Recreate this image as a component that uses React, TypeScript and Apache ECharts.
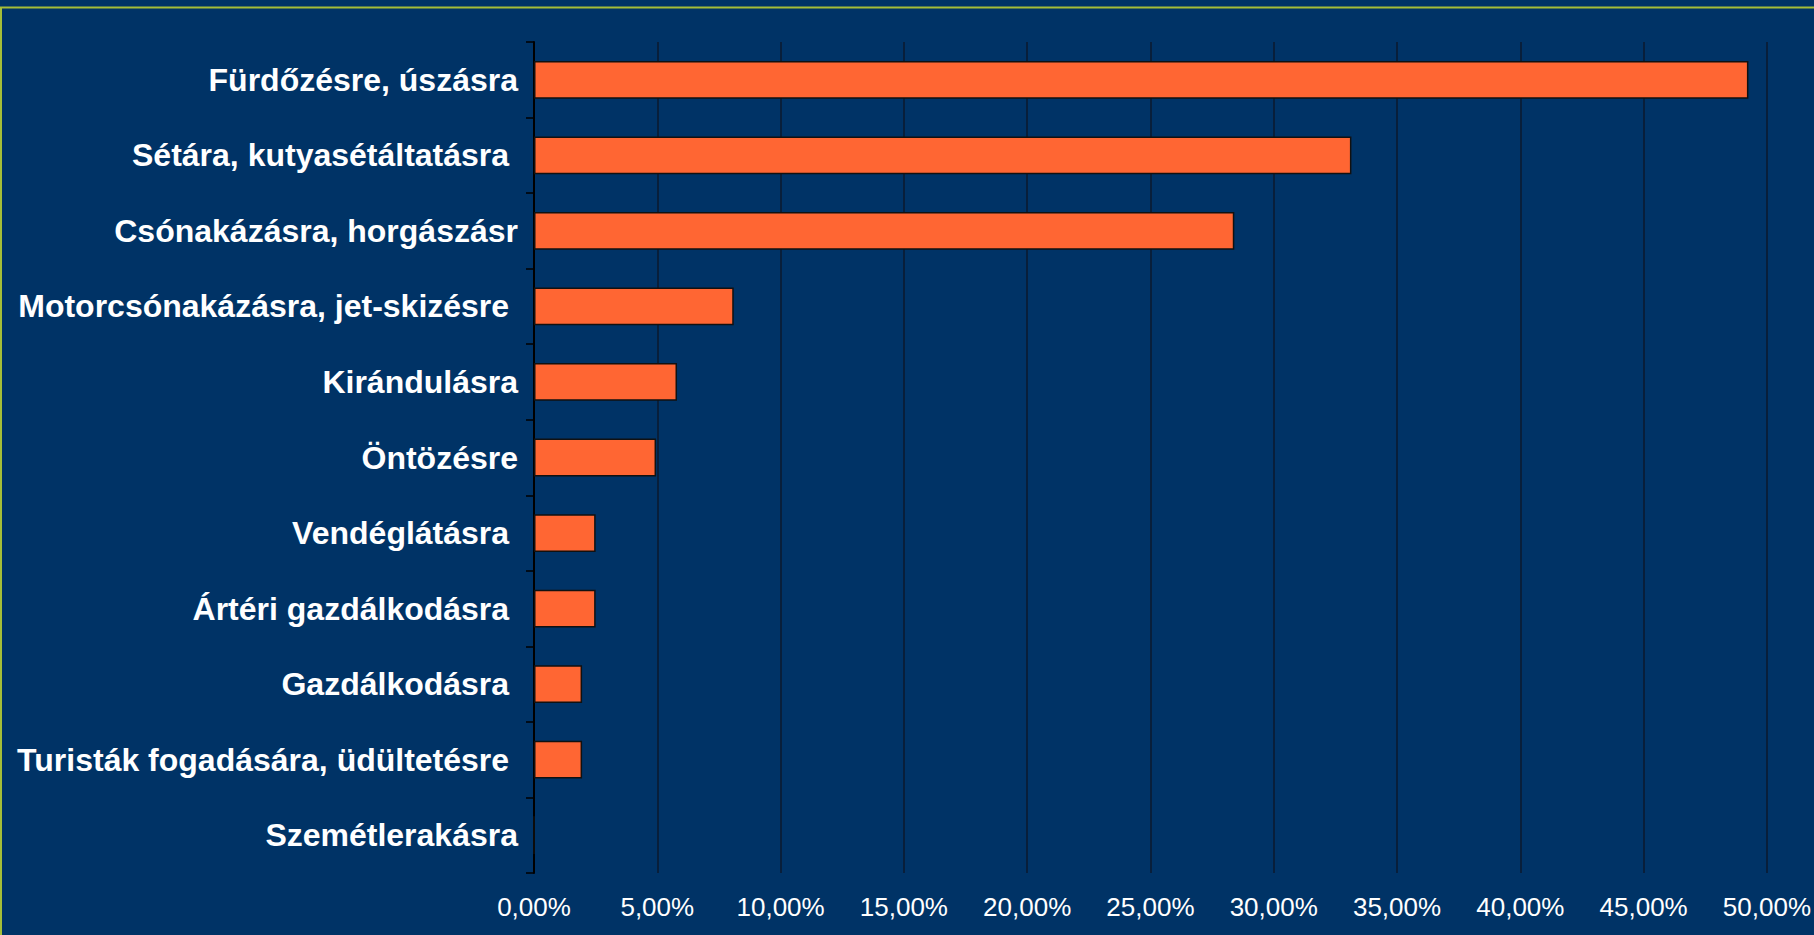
import React, { useEffect, useRef } from "react";
import * as echarts from "echarts";

const categories = [
  "Fürdőzésre, úszásra",
  "Sétára, kutyasétáltatásra ",
  "Csónakázásra, horgászásr",
  "Motorcsónakázásra, jet-skizésre ",
  "Kirándulásra",
  "Öntözésre",
  "Vendéglátásra ",
  "Ártéri gazdálkodásra ",
  "Gazdálkodásra ",
  "Turisták fogadására, üdültetésre ",
  "Szemétlerakásra",
];

const values = [49.25, 33.15, 28.4, 8.1, 5.8, 4.95, 2.5, 2.5, 1.95, 1.95, 0];

const xMin = 0;
const xMax = 50;
const xInterval = 5;

export default function App() {
  const ref = useRef<HTMLDivElement>(null);

  useEffect(() => {
    if (!ref.current) return;
    const chart = echarts.init(ref.current, undefined, { renderer: "svg" });
    chart.setOption({
      animation: false,
      backgroundColor: "#003366",
      grid: { left: 534, right: 46, top: 42, bottom: 62, containLabel: false },
      xAxis: {
        type: "value",
        min: xMin,
        max: xMax,
        interval: xInterval,
        axisLine: { show: false },
        axisTick: { show: false },
        splitLine: { show: true, lineStyle: { color: "#0B1A2E", width: 1.5 } },
        axisLabel: {
          color: "#ffffff",
          fontSize: 26,
          fontFamily: "Liberation Sans, Arial, sans-serif",
          margin: 21,
          formatter: (v: number) => v.toFixed(2).replace(".", ",") + "%",
        },
      },
      yAxis: {
        type: "category",
        inverse: true,
        data: categories,
        axisLine: { show: true, lineStyle: { color: "#000000", width: 2 } },
        axisTick: { show: true, length: 8, lineStyle: { color: "#000000", width: 1.5 } },
        splitLine: { show: false },
        axisLabel: {
          color: "#ffffff",
          fontSize: 32,
          fontWeight: "bold",
          fontFamily: "Liberation Sans, Arial, sans-serif",
          margin: 16,
        },
      },
      series: [
        {
          type: "bar",
          data: values,
          barCategoryGap: "50%",
          itemStyle: { color: "#FF6633", borderColor: "#111111", borderWidth: 1.5 },
        },
      ],
      graphic: [
        {
          type: "rect",
          shape: { x: 1, y: 7.5, width: 2000, height: 1200 },
          style: { fill: "none", stroke: "#A5BE38", lineWidth: 2 },
          silent: true,
        },
      ],
    });
    return () => chart.dispose();
  }, []);

  return (
    <div
      ref={ref}
      style={{ position: "fixed", left: 0, top: 0, width: 1814, height: 935 }}
    />
  );
}
